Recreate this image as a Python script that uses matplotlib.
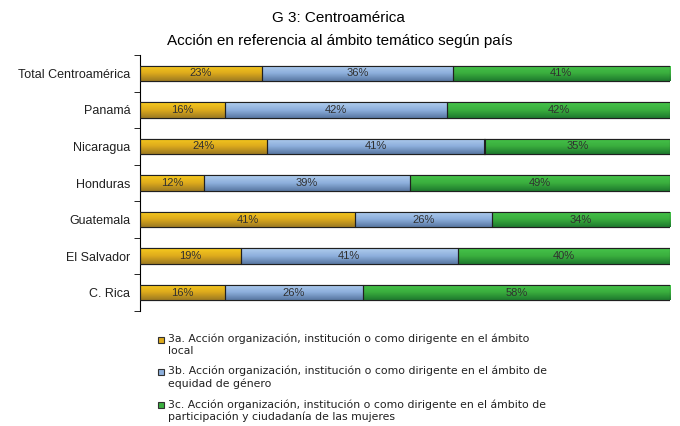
import matplotlib.pyplot as plt
import matplotlib.patches as mpatches
from matplotlib.colors import LinearSegmentedColormap
import numpy as np

# data (top to bottom as in the chart)
paises = ['Total Centroamérica', 'Panamá', 'Nicaragua', 'Honduras',
          'Guatemala', 'El Salvador', 'C. Rica']
local = [23, 16, 24, 12, 41, 19, 16]
equidad = [36, 42, 41, 39, 26, 41, 26]
participacion = [41, 42, 35, 49, 34, 40, 58]

serieLabels = [
    '3a. Acción organización, institución o como dirigente en el ámbito\nlocal',
    '3b. Acción organización, institución o como dirigente en el ámbito de\nequidad de género',
    '3c. Acción organización, institución o como dirigente en el ámbito de\nparticipación y ciudadanía de las mujeres',
]
colores = ['#DDAA1C', '#8DAFDC', '#3AAE3E']
# top -> middle -> bottom shades for the gradient fill
gradientes = [
    ['#F8CB1E', '#DDAA1C', '#9C7A22'],
    ['#B0CEEE', '#8DAFDC', '#5877A2'],
    ['#46C44A', '#3AAE3E', '#1E7A2E'],
]

fuente = ['Liberation Sans', 'DejaVu Sans']
barHeight = 0.42

fig = plt.figure(figsize=(6.8, 4.26), dpi=100)
ax = fig.add_axes([140 / 680, 1 - 311 / 426, 530 / 680, 256 / 426])

series = np.array([local, equidad, participacion], dtype=float)
totales = series.sum(axis=0)
fracs = series / totales
y = np.arange(len(paises))
left = np.zeros(len(paises))
grad = np.linspace(0, 1, 64).reshape(-1, 1)
for i in range(3):
    cmap = LinearSegmentedColormap.from_list('g%d' % i, gradientes[i])
    bars = ax.barh(y, fracs[i], left=left, height=barHeight,
                   color=colores[i], edgecolor='#202020', linewidth=0.8,
                   label=serieLabels[i], zorder=2)
    for j, bar in enumerate(bars):
        im = ax.imshow(grad, cmap=cmap, aspect='auto', zorder=2.5,
                       extent=(left[j], left[j] + fracs[i][j],
                               y[j] + barHeight / 2, y[j] - barHeight / 2))
        im.set_clip_path(bar)
        edge = mpatches.Rectangle(bar.get_xy(), bar.get_width(),
                                  bar.get_height(), fill=False,
                                  edgecolor='#202020', linewidth=0.8,
                                  zorder=3)
        ax.add_patch(edge)
        ax.text(left[j] + fracs[i][j] / 2, y[j], f'{int(series[i][j])}%',
                ha='center', va='center', fontsize=8, color='#303030',
                family=fuente, zorder=4)
    left += fracs[i]

ax.set_xlim(0, 1)
ax.set_ylim(len(paises) - 0.5, -0.5)
ax.set_yticks(y)
ax.set_yticklabels(paises, family=fuente, fontsize=9, color='#202020')
ax.tick_params(axis='y', which='major', length=0, pad=7)
ax.set_yticks(np.arange(-0.5, len(paises)), minor=True)
ax.tick_params(axis='y', which='minor', length=4, direction='out')
ax.set_xticks([])
for s in ['top', 'right', 'bottom']:
    ax.spines[s].set_visible(False)
ax.spines['left'].set_linewidth(0.8)

fig.text(338 / 680, 1 - 18 / 426, 'G 3: Centroamérica', ha='center',
         va='center', fontsize=11, family=fuente)
fig.text(340 / 680, 1 - 41 / 426,
         'Acción en referencia al ámbito temático según país',
         ha='center', va='center', fontsize=11, family=fuente)

# legend drawn by hand so the marker sits next to the first line
legendY = [340, 372, 405]
for c, lab, ly in zip(colores, serieLabels, legendY):
    fig.patches.append(mpatches.Rectangle(
        (158 / 680, 1 - (ly + 3) / 426), 6 / 680, 6 / 426,
        facecolor=c, edgecolor='#303030', linewidth=0.8,
        transform=fig.transFigure, figure=fig))
    fig.text(168 / 680, 1 - (ly - 6) / 426, lab, ha='left', va='top',
             fontsize=7.8, color='#202020', linespacing=1.25)

plt.savefig('out.png', dpi=100)
